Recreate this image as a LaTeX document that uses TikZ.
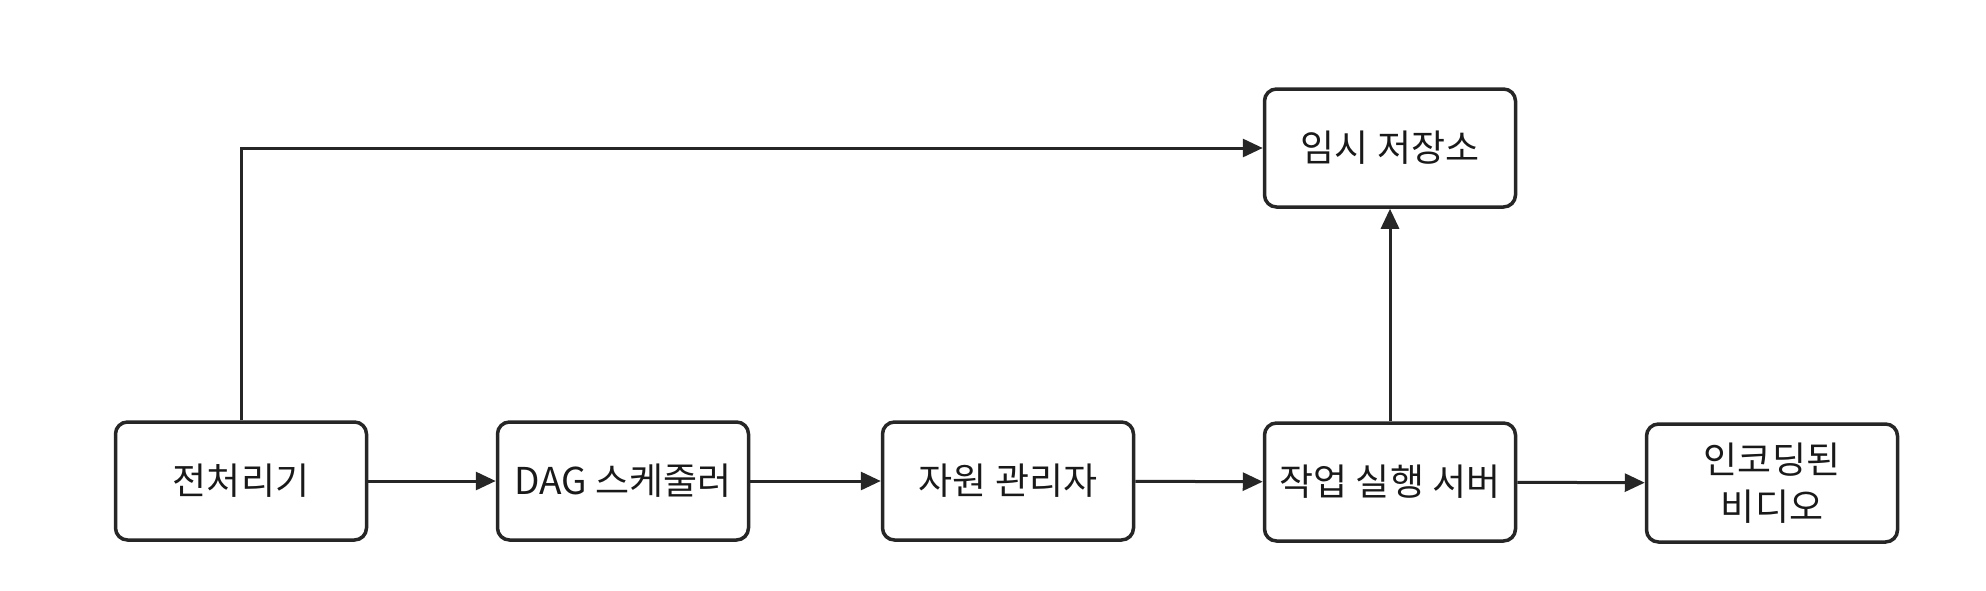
\documentclass[tikz,border=0pt]{standalone}
\usepackage{fontspec}
\setmainfont{Noto Sans CJK KR}
\usetikzlibrary{arrows.meta}
\begin{document}
\begin{tikzpicture}[x=1pt,y=-1pt,
  box/.style={draw=black!85, line width=3.5pt, rounded corners=12pt, minimum width=251pt, minimum height=118pt, inner sep=0pt, align=center, font=\fontsize{37}{47}\selectfont, text=black!90},
  conn/.style={draw=black!85, line width=3pt, -{Triangle[length=20pt,width=18pt]}}]
\useasboundingbox (0,0) rectangle (1986,590);
\node[box] (pre) at (241,481) {전처리기};
\node[box] (dag) at (623,481) {DAG 스케줄러};
\node[box] (res) at (1008,481) {자원 관리자};
\node[box] (exe) at (1390,482) {작업 실행 서버};
\node[box] (enc) at (1772,483) {인코딩된\\비디오};
\node[box] (tmp) at (1390,148) {임시 저장소};
\draw[conn] (pre) -- (dag);
\draw[conn] (dag) -- (res);
\draw[conn] (res) -- (exe);
\draw[conn] (exe) -- (enc);
\draw[conn] (exe) -- (tmp);
\draw[conn] (pre.north) |- (tmp.west);
\end{tikzpicture}
\end{document}
